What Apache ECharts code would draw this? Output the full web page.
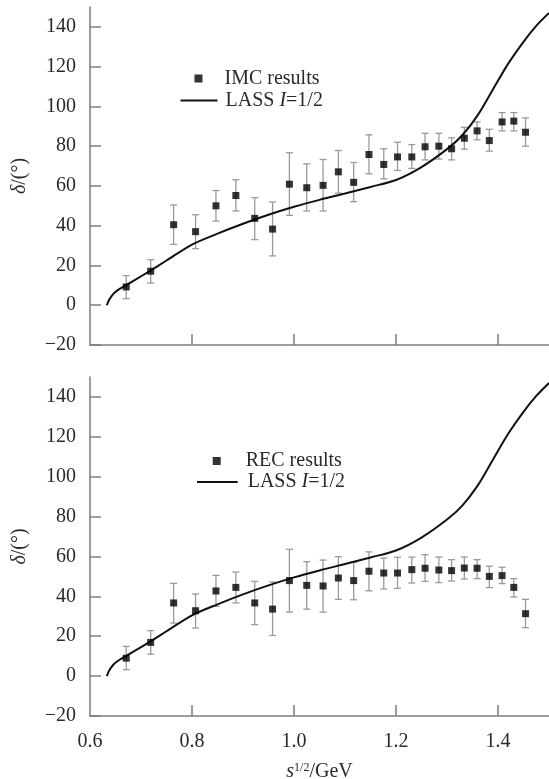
<!DOCTYPE html>
<html>
<head>
<meta charset="utf-8">
<script src="https://cdn.jsdelivr.net/npm/echarts@6/dist/echarts.min.js"></script>
<style>
html,body{margin:0;padding:0;background:#fff;}
#chart{width:549px;height:779px;}
</style>
</head>
<body>
<div id="chart"></div>
<script>
// ---- data ----
const sqrtS = [0.671, 0.719, 0.764, 0.807, 0.847, 0.886, 0.923, 0.958, 0.991, 1.025, 1.057, 1.087, 1.117,
  1.147, 1.176, 1.203, 1.231, 1.257, 1.284, 1.309, 1.334, 1.359, 1.383, 1.408, 1.431, 1.454];

const imcDelta = [9.2, 17.1, 40.5, 37.0, 50.0, 55.2, 43.7, 38.3, 60.9, 59.1, 60.3, 67.1, 61.8,
  75.8, 70.8, 74.6, 74.6, 79.7, 80.0, 78.7, 84.0, 87.7, 82.8, 92.2, 92.6, 87.0];
const imcLow = [3.3, 11.2, 30.6, 28.5, 42.3, 47.4, 33.0, 24.8, 45.2, 47.4, 47.4, 56.4, 52.1,
  66.1, 63.6, 67.8, 68.8, 73.1, 73.5, 73.1, 78.5, 83.2, 77.5, 87.7, 87.7, 80.0];
const imcHigh = [14.9, 22.9, 50.4, 45.5, 57.7, 63.1, 54.1, 51.9, 76.7, 71.1, 73.3, 77.8, 71.8,
  85.7, 78.7, 82.0, 80.8, 86.5, 86.5, 84.2, 89.5, 92.2, 88.5, 96.9, 96.9, 94.2];

const recDelta = [9.0, 16.9, 36.7, 32.8, 42.7, 44.5, 36.7, 33.6, 47.9, 45.5, 45.2, 49.2, 47.9,
  52.6, 51.7, 51.7, 53.4, 54.1, 53.2, 52.9, 54.2, 54.1, 50.0, 50.4, 44.5, 31.3];
const recLow = [3.2, 11.0, 26.6, 24.1, 35.0, 36.7, 25.8, 20.4, 32.1, 33.6, 32.1, 38.5, 38.3,
  42.8, 43.7, 44.0, 46.7, 47.5, 46.9, 47.7, 48.7, 48.9, 44.4, 46.4, 39.7, 24.3];
const recHigh = [14.9, 22.8, 46.5, 41.2, 50.5, 52.2, 47.5, 47.2, 63.6, 57.4, 58.2, 59.9, 57.1,
  62.3, 59.2, 59.6, 59.7, 60.9, 59.7, 58.4, 59.7, 58.4, 55.1, 54.6, 48.9, 38.5];

const lassX = [0.633, 0.637, 0.642, 0.648, 0.658, 0.672, 0.69, 0.717, 0.75, 0.8, 0.85, 0.9, 0.95,
  1.0, 1.05, 1.1, 1.15, 1.2, 1.25, 1.3, 1.33, 1.36, 1.39, 1.42, 1.45, 1.475, 1.5];
const lassY = [0, 2.5, 4.5, 6.3, 8.2, 10.3, 13, 17.2, 22.5, 30.5, 36, 41, 45.5,
  49.5, 53, 56.2, 59.5, 63, 69.5, 78.5, 85.5, 95.5, 108.5, 121.5, 132.5, 140.5, 147];

const xLabelValues = [0.6, 0.8, 1.0, 1.2, 1.4];
const xTickValues = [0.8, 1.0, 1.2, 1.4];
const yTickValues = [-20, 0, 20, 40, 60, 80, 100, 120, 140];

const nameIMC = 'IMC results';
const nameREC = 'REC results';
const nameLASS = 'LASS I=1/2';

// ---- build ----
const FONT = 'Liberation Serif';
const AXIS_COLOR = '#7d7d7d';
const TEXT_COLOR = '#2a2a2a';

const pts = (ys) => sqrtS.map((x, i) => [x, ys[i]]);
const bars = (lo, hi) => sqrtS.map((x, i) => [x, lo[i], hi[i]]);
const lass = lassX.map((x, i) => [x, lassY[i]]);

function errRender(params, api) {
  const x = api.value(0);
  const p1 = api.coord([x, api.value(2)]);
  const p2 = api.coord([x, api.value(1)]);
  const w = 3.5;
  const st = { stroke: '#9a9a9a', lineWidth: 1.3 };
  return {
    type: 'group',
    children: [
      { type: 'line', shape: { x1: p1[0], y1: p1[1], x2: p2[0], y2: p2[1] }, style: st },
      { type: 'line', shape: { x1: p1[0] - w, y1: p1[1], x2: p1[0] + w, y2: p1[1] }, style: st },
      { type: 'line', shape: { x1: p2[0] - w, y1: p2[1], x2: p2[0] + w, y2: p2[1] }, style: st }
    ]
  };
}

function xAxis(idx, showLabels) {
  return {
    type: 'value', gridIndex: idx, min: 0.6, max: 1.5,
    axisLine: { show: true, onZero: false, lineStyle: { color: AXIS_COLOR, width: 1.5 } },
    axisTick: { show: true, inside: true, length: 11, customValues: xTickValues,
      lineStyle: { color: AXIS_COLOR, width: 1.5 } },
    axisLabel: { show: showLabels, customValues: xLabelValues, margin: 16,
      formatter: (v) => v.toFixed(1),
      fontFamily: FONT, fontSize: 20, color: TEXT_COLOR },
    splitLine: { show: false },
    name: showLabels ? '{it|s}{sup|1/2}{n|/GeV}' : '',
    nameLocation: 'middle', nameGap: 46,
    nameTextStyle: {
      fontFamily: FONT, fontSize: 20, color: TEXT_COLOR,
      rich: {
        it: { fontFamily: FONT, fontSize: 20, fontStyle: 'italic', color: TEXT_COLOR },
        sup: { fontFamily: FONT, fontSize: 12, color: TEXT_COLOR, verticalAlign: 'top', padding: [0, 0, 8, 0] },
        n: { fontFamily: FONT, fontSize: 20, color: TEXT_COLOR }
      }
    }
  };
}

function yAxis(idx) {
  return {
    type: 'value', gridIndex: idx, min: -20, max: 150,
    axisLine: { show: true, onZero: false, lineStyle: { color: AXIS_COLOR, width: 1.5 } },
    axisTick: { show: true, inside: true, length: 11, customValues: yTickValues,
      lineStyle: { color: AXIS_COLOR, width: 1.5 } },
    axisLabel: { customValues: yTickValues, margin: 14,
      formatter: (v) => (v < 0 ? '\u2212' + Math.abs(v) : String(v)),
      fontFamily: FONT, fontSize: 20, color: TEXT_COLOR },
    splitLine: { show: false },
    name: '{it|δ}{n|/(°)}',
    nameLocation: 'middle', nameGap: 60,
    nameTextStyle: {
      fontFamily: FONT, fontSize: 20, color: TEXT_COLOR,
      rich: {
        it: { fontFamily: FONT, fontSize: 20, fontStyle: 'italic', color: TEXT_COLOR },
        n: { fontFamily: FONT, fontSize: 20, color: TEXT_COLOR }
      }
    }
  };
}

const legendText = {
  fontFamily: FONT, fontSize: 20, color: TEXT_COLOR,
  rich: {
    n: { fontFamily: FONT, fontSize: 20, color: TEXT_COLOR },
    i: { fontFamily: FONT, fontSize: 20, fontStyle: 'italic', color: TEXT_COLOR }
  }
};
const lassFormatter = () => '{n|LASS }{i|I}{n|=1/2}';

function squareLegend(name, left, top, pad) {
  return {
    data: [{ name: name, icon: 'rect' }], left: left, top: top, padding: 0,
    itemWidth: 8, itemHeight: 8, selectedMode: false,
    textStyle: Object.assign({}, legendText, { padding: [0, 0, 0, pad] })
  };
}
function lineLegend(left, top, width, pad) {
  return {
    data: [{ name: nameLASS }], left: left, top: top, padding: 0,
    itemWidth: width, itemHeight: 14, selectedMode: false,
    itemStyle: { opacity: 0 },
    lineStyle: { color: '#111', width: 2 },
    formatter: lassFormatter,
    textStyle: Object.assign({}, legendText, { padding: [0, 0, 0, pad] })
  };
}

const option = {
  backgroundColor: '#fff',
  animation: false,
  grid: [
    { left: 90, right: 0, top: 7, height: 338, outerBoundsMode: 'none', containLabel: false },
    { left: 90, right: 0, top: 377, height: 339, outerBoundsMode: 'none', containLabel: false }
  ],
  xAxis: [xAxis(0, false), xAxis(1, true)],
  yAxis: [yAxis(0), yAxis(1)],
  legend: [
    squareLegend(nameIMC, 194.5, 68.5, 17),
    lineLegend(179.5, 90.5, 37, 3),
    squareLegend(nameREC, 212.7, 451, 20),
    lineLegend(196, 472, 40.7, 5)
  ],
  series: [
    { type: 'custom', xAxisIndex: 0, yAxisIndex: 0, renderItem: errRender,
      encode: { x: 0, y: [1, 2] }, data: bars(imcLow, imcHigh), z: 1, silent: true },
    { type: 'line', name: nameLASS, xAxisIndex: 0, yAxisIndex: 0, data: lass, smooth: 0.3,
      showSymbol: false, symbol: 'none', lineStyle: { color: '#111', width: 2 }, itemStyle: { color: '#111' }, z: 2 },
    { type: 'scatter', name: nameIMC, xAxisIndex: 0, yAxisIndex: 0, data: pts(imcDelta),
      symbol: 'rect', symbolSize: 7, itemStyle: { color: '#000' }, z: 3 },

    { type: 'custom', xAxisIndex: 1, yAxisIndex: 1, renderItem: errRender,
      encode: { x: 0, y: [1, 2] }, data: bars(recLow, recHigh), z: 1, silent: true },
    { type: 'line', name: nameLASS, xAxisIndex: 1, yAxisIndex: 1, data: lass, smooth: 0.3,
      showSymbol: false, symbol: 'none', lineStyle: { color: '#111', width: 2 }, itemStyle: { color: '#111' }, z: 2 },
    { type: 'scatter', name: nameREC, xAxisIndex: 1, yAxisIndex: 1, data: pts(recDelta),
      symbol: 'rect', symbolSize: 7, itemStyle: { color: '#000' }, z: 3 }
  ]
};

const chart = echarts.init(document.getElementById('chart'), null, { renderer: 'canvas' });
chart.setOption(option);
</script>
</body>
</html>
